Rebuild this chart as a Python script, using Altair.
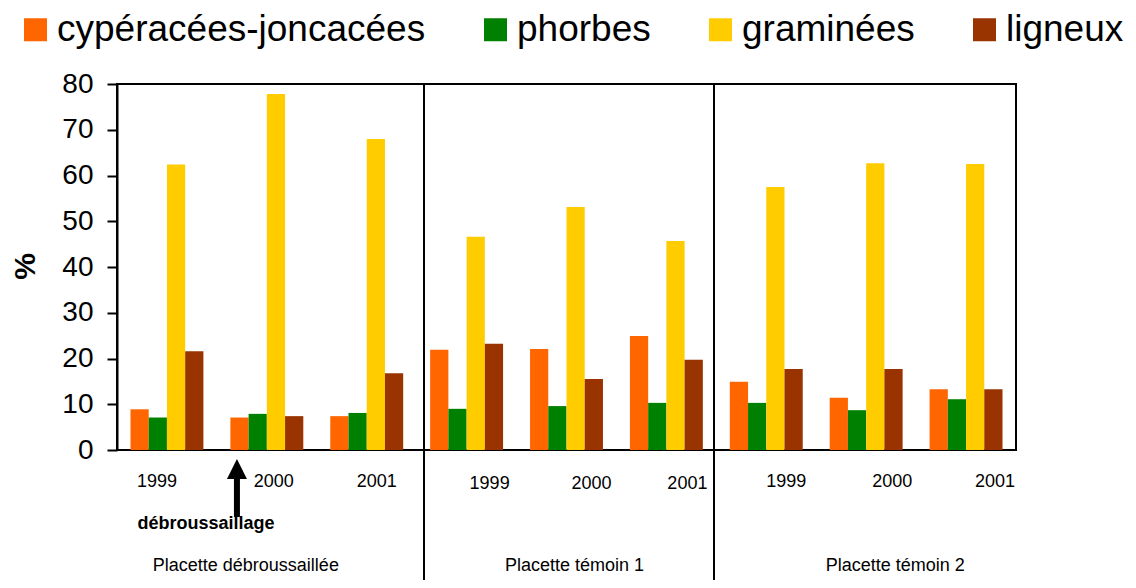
import altair as alt
import pandas as pd

FONT = "Liberation Sans"

species = ["cypéracées-joncacées", "phorbes", "graminées", "ligneux"]
colors = ["#FF6600", "#008000", "#FFCC00", "#993300"]
plots = ["Placette débroussaillée", "Placette témoin 1", "Placette témoin 2"]
years = ["1999", "2000", "2001"]

# values per group: (débroussaillée 1999, 2000, 2001, témoin1 ..., témoin2 ...)
cyperacees = [8.9, 7.1, 7.4, 21.9, 22.1, 24.9, 14.9, 11.4, 13.3]
phorbes = [7.1, 7.9, 8.1, 9.0, 9.6, 10.3, 10.3, 8.7, 11.1]
graminees = [62.4, 77.8, 68.0, 46.6, 53.1, 45.7, 57.5, 62.7, 62.5]
ligneux = [21.6, 7.4, 16.8, 23.2, 15.5, 19.7, 17.7, 17.7, 13.3]

annotation = "débroussaillage"

groups = [f"{p} {y}" for p in plots for y in years]

rows = []
for s, vals in zip(species, [cyperacees, phorbes, graminees, ligneux]):
    for g, v in zip(groups, vals):
        rows.append({"groupe": g, "espece": s, "valeur": v})
df = pd.DataFrame(rows)

xscale = alt.Scale(domain=groups, paddingInner=0.27, paddingOuter=0.135)
x_axis = alt.Axis(labels=False, ticks=False, title=None, domain=False, grid=False)


def gx(band=None):
    if band is None:
        return alt.X("groupe:N", scale=xscale, axis=x_axis)
    return alt.X("groupe:N", scale=xscale, axis=x_axis, bandPosition=band)


bars = alt.Chart(df).mark_bar().encode(
    x=gx(),
    xOffset=alt.XOffset("espece:N", sort=species,
                        scale=alt.Scale(domain=species, paddingInner=0, paddingOuter=0)),
    y=alt.Y("valeur:Q", scale=alt.Scale(domain=[0, 80], nice=False),
            axis=alt.Axis(values=list(range(0, 81, 10)), title="%",
                          titleFontSize=30, titleFontWeight="bold", titleColor="black",
                          titleAngle=270, titleX=-92, titleY=182, titleAlign="center",
                          titleBaseline="middle", titleFont=FONT,
                          labelFontSize=28, labelColor="black", labelFont=FONT,
                          labelPadding=14, tickSize=10, tickColor="black", tickWidth=2,
                          domainColor="black", domainWidth=2, grid=False)),
    color=alt.Color("espece:N", sort=species,
                    scale=alt.Scale(domain=species, range=colors),
                    legend=alt.Legend(title=None, orient="none", legendX=-100, legendY=-73,
                                      direction="horizontal", symbolType="square",
                                      symbolSize=529, symbolStrokeWidth=0, symbolOpacity=1,
                                      labelFontSize=37, labelFont=FONT, labelColor="black",
                                      labelOffset=3, columnPadding=51, padding=0,
                                      labelLimit=600)),
)


def label(text, grp, dx, y, size, weight="normal"):
    d = pd.DataFrame({"groupe": [grp], "t": [text]})
    return alt.Chart(d).mark_text(
        dx=dx, fontSize=size, font=FONT, fontWeight=weight, color="black",
        baseline="middle", align="center"
    ).encode(x=gx(), y=alt.value(y), text="t:N")


layers = [bars]

# year labels under each group
year_dx = [-10, 7, 10, 23, 25, 21, 20, 26, 29]
year_y = [398, 398, 398, 400, 400, 400, 398, 398, 398]
i = 0
for p in plots:
    for y in years:
        layers.append(label(y, f"{p} {y}", year_dx[i], year_y[i], 18))
        i += 1

# plot names
plot_dx = [-21, 8, 29]
for k, p in enumerate(plots):
    layers.append(label(p, f"{p} 2000", plot_dx[k], 482, 18))

# annotation
layers.append(label(annotation, groups[0], 39, 440, 18, "bold"))

arrow_df = pd.DataFrame({"groupe": [groups[1]]})
shaft = alt.Chart(arrow_df).mark_rule(strokeWidth=6, color="black").encode(
    x=gx(0.09), y=alt.value(392), y2=alt.value(433))
head = alt.Chart(arrow_df).mark_point(
    shape="M0,-1L1,1L-1,1Z", size=400, filled=True, color="black", opacity=1, strokeWidth=0
).encode(x=gx(0.09), y=alt.value(385))
layers += [shaft, head]

# panel separators (decorative lines between the three plots)
sep1 = alt.Chart(pd.DataFrame({"groupe": [groups[3]]})).mark_rule(strokeWidth=2, color="black").encode(
    x=alt.value(307), y=alt.value(0), y2=alt.value(504))
sep2 = alt.Chart(pd.DataFrame({"groupe": [groups[6]]})).mark_rule(strokeWidth=2, color="black").encode(
    x=alt.value(597), y=alt.value(0), y2=alt.value(504))
layers += [sep1, sep2]

chart = alt.layer(*layers).properties(
    width=899, height=366,
    autosize=alt.AutoSizeParams(type="none"),
    padding={"left": 109, "top": 76, "right": 112, "bottom": 130},
).configure(
    background="white",
    view=alt.ViewConfig(stroke="black", strokeWidth=2),
)

chart.save("out.html", embed_options={"renderer": "svg", "actions": False})
